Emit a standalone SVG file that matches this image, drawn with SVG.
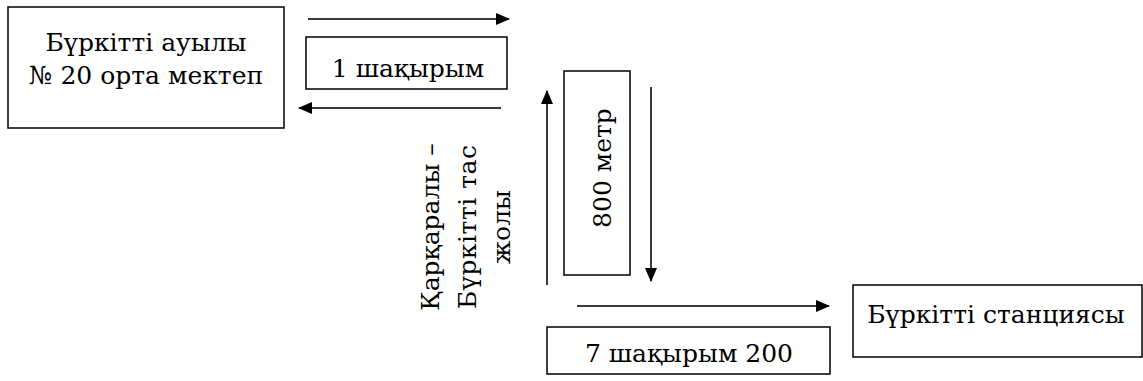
<svg xmlns="http://www.w3.org/2000/svg" width="1143" height="381" viewBox="0 0 1143 381">
<style>
.box{fill:#fff;stroke:#000;stroke-width:1.5}
.t{font-family:"DejaVu Serif",serif;font-size:25px;fill:#000;text-anchor:middle}
.arr{stroke:#3a3a3a;stroke-width:2;fill:none;marker-end:url(#ah)}
</style>
<defs>
<marker id="ah" markerUnits="userSpaceOnUse" markerWidth="14" markerHeight="12" refX="13" refY="6" orient="auto">
<path d="M0,0 L14,6 L0,12 Z" fill="#000"/>
</marker>
</defs>
<rect width="1143" height="381" fill="#fff"/>
<g id="connectors">
<line class="arr" x1="308" y1="19" x2="509" y2="19"/>
<line class="arr" x1="501" y1="108" x2="299" y2="108"/>
<line class="arr" x1="547" y1="285" x2="547" y2="91"/>
<line class="arr" x1="651" y1="87" x2="651" y2="281"/>
<line class="arr" x1="577" y1="306" x2="829" y2="306"/>
</g>
<g id="school">
<rect class="box" x="8" y="7" width="276" height="121"/>
<text class="t" x="146" y="51">Бүркітті ауылы</text>
<text class="t" x="146" y="84">№ 20 орта мектеп</text>
</g>
<g id="km1">
<rect class="box" x="306" y="37" width="201" height="52"/>
<text class="t" x="408" y="77">1 шақырым</text>
</g>
<g id="m800">
<rect class="box" x="564" y="71" width="66" height="204"/>
<text class="t" transform="translate(611,168) rotate(-90)">800 метр</text>
</g>
<g id="road">
<text class="t" transform="translate(439,227) rotate(-90)">Қарқаралы –</text>
<text class="t" transform="translate(476,227) rotate(-90)" textLength="164" lengthAdjust="spacing">Бүркітті  тас</text>
<text class="t" transform="translate(510,227) rotate(-90)">жолы</text>
</g>
<g id="km7">
<rect class="box" x="547" y="327" width="283" height="47"/>
<text class="t" x="689" y="362">7 шақырым 200</text>
</g>
<g id="station">
<rect class="box" x="853" y="285" width="289" height="72"/>
<text class="t" x="996" y="323">Бүркітті станциясы</text>
</g>
</svg>
